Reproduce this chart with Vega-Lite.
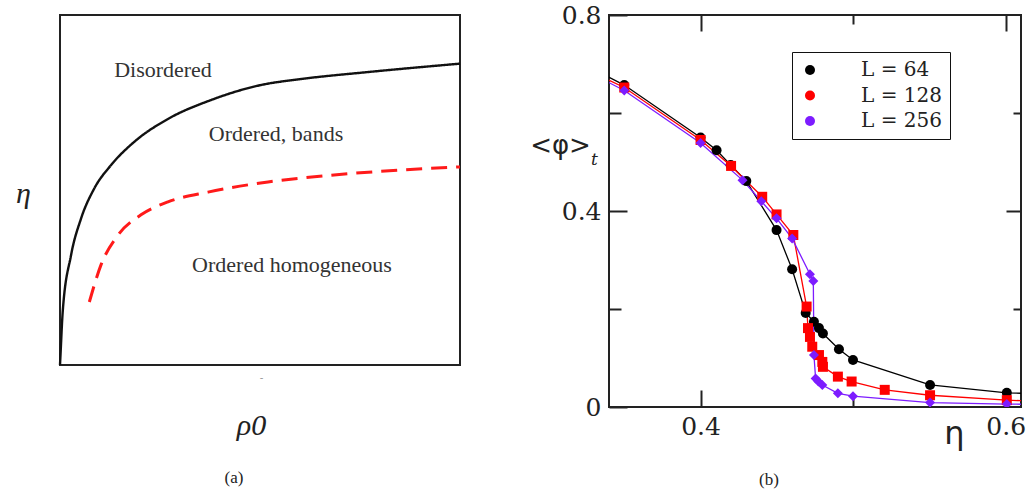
{
  "$schema": "https://vega.github.io/schema/vega-lite/v6.json",
  "background": "white",
  "padding": {"left": 14, "top": 2, "right": 0, "bottom": 0},
  "config": {
    "view": {"stroke": "#222", "strokeWidth": 2},
    "axis": {"grid": false, "domain": false}
  },
  "datasets": {
    "phase": [
      {"rho": 0.0, "eta": 0.0, "curve": "solid"},
      {"rho": 0.001, "eta": 0.023, "curve": "solid"},
      {"rho": 0.0067, "eta": 0.151, "curve": "solid"},
      {"rho": 0.0275, "eta": 0.313, "curve": "solid"},
      {"rho": 0.0525, "eta": 0.418, "curve": "solid"},
      {"rho": 0.085, "eta": 0.503, "curve": "solid"},
      {"rho": 0.1275, "eta": 0.571, "curve": "solid"},
      {"rho": 0.185, "eta": 0.637, "curve": "solid"},
      {"rho": 0.27, "eta": 0.703, "curve": "solid"},
      {"rho": 0.3775, "eta": 0.757, "curve": "solid"},
      {"rho": 0.5025, "eta": 0.8, "curve": "solid"},
      {"rho": 0.6025, "eta": 0.817, "curve": "solid"},
      {"rho": 0.77, "eta": 0.837, "curve": "solid"},
      {"rho": 1.0, "eta": 0.861, "curve": "solid"},
      {"rho": 0.0733, "eta": 0.18, "curve": "dashed"},
      {"rho": 0.1025, "eta": 0.286, "curve": "dashed"},
      {"rho": 0.145, "eta": 0.371, "curve": "dashed"},
      {"rho": 0.2025, "eta": 0.429, "curve": "dashed"},
      {"rho": 0.27, "eta": 0.466, "curve": "dashed"},
      {"rho": 0.37, "eta": 0.494, "curve": "dashed"},
      {"rho": 0.52, "eta": 0.523, "curve": "dashed"},
      {"rho": 0.685, "eta": 0.543, "curve": "dashed"},
      {"rho": 1.0, "eta": 0.566, "curve": "dashed"}
    ],
    "regions": [
      {"rho": 0.2575, "eta": 0.843, "label": "Disordered"},
      {"rho": 0.54, "eta": 0.66, "label": "Ordered, bands"},
      {"rho": 0.58, "eta": 0.286, "label": "Ordered homogeneous"}
    ],
    "order": [
      {"eta": 0.32, "phi": 0.705, "L": "L = 64"},
      {"eta": 0.35, "phi": 0.657, "L": "L = 64"},
      {"eta": 0.4, "phi": 0.55, "L": "L = 64"},
      {"eta": 0.4105, "phi": 0.524, "L": "L = 64"},
      {"eta": 0.4197, "phi": 0.494, "L": "L = 64"},
      {"eta": 0.43, "phi": 0.461, "L": "L = 64"},
      {"eta": 0.4498, "phi": 0.361, "L": "L = 64"},
      {"eta": 0.46, "phi": 0.281, "L": "L = 64"},
      {"eta": 0.4689, "phi": 0.192, "L": "L = 64"},
      {"eta": 0.4743, "phi": 0.174, "L": "L = 64"},
      {"eta": 0.4776, "phi": 0.161, "L": "L = 64"},
      {"eta": 0.4802, "phi": 0.15, "L": "L = 64"},
      {"eta": 0.4907, "phi": 0.118, "L": "L = 64"},
      {"eta": 0.4999, "phi": 0.096, "L": "L = 64"},
      {"eta": 0.5504, "phi": 0.045, "L": "L = 64"},
      {"eta": 0.6007, "phi": 0.029, "L": "L = 64"},
      {"eta": 0.65, "phi": 0.024, "L": "L = 64"},
      {"eta": 0.32, "phi": 0.697, "L": "L = 128"},
      {"eta": 0.35, "phi": 0.652, "L": "L = 128"},
      {"eta": 0.4, "phi": 0.545, "L": "L = 128"},
      {"eta": 0.42, "phi": 0.492, "L": "L = 128"},
      {"eta": 0.4404, "phi": 0.429, "L": "L = 128"},
      {"eta": 0.4498, "phi": 0.393, "L": "L = 128"},
      {"eta": 0.4608, "phi": 0.351, "L": "L = 128"},
      {"eta": 0.4695, "phi": 0.205, "L": "L = 128"},
      {"eta": 0.4704, "phi": 0.161, "L": "L = 128"},
      {"eta": 0.4717, "phi": 0.143, "L": "L = 128"},
      {"eta": 0.4732, "phi": 0.123, "L": "L = 128"},
      {"eta": 0.4776, "phi": 0.106, "L": "L = 128"},
      {"eta": 0.4798, "phi": 0.092, "L": "L = 128"},
      {"eta": 0.4802, "phi": 0.082, "L": "L = 128"},
      {"eta": 0.49, "phi": 0.062, "L": "L = 128"},
      {"eta": 0.499, "phi": 0.052, "L": "L = 128"},
      {"eta": 0.5207, "phi": 0.035, "L": "L = 128"},
      {"eta": 0.5504, "phi": 0.024, "L": "L = 128"},
      {"eta": 0.6007, "phi": 0.014, "L": "L = 128"},
      {"eta": 0.65, "phi": 0.008, "L": "L = 128"},
      {"eta": 0.32, "phi": 0.694, "L": "L = 256"},
      {"eta": 0.35, "phi": 0.646, "L": "L = 256"},
      {"eta": 0.4, "phi": 0.539, "L": "L = 256"},
      {"eta": 0.4275, "phi": 0.463, "L": "L = 256"},
      {"eta": 0.4398, "phi": 0.42, "L": "L = 256"},
      {"eta": 0.4498, "phi": 0.385, "L": "L = 256"},
      {"eta": 0.46, "phi": 0.344, "L": "L = 256"},
      {"eta": 0.4717, "phi": 0.271, "L": "L = 256"},
      {"eta": 0.4739, "phi": 0.257, "L": "L = 256"},
      {"eta": 0.4743, "phi": 0.106, "L": "L = 256"},
      {"eta": 0.4754, "phi": 0.058, "L": "L = 256"},
      {"eta": 0.4772, "phi": 0.052, "L": "L = 256"},
      {"eta": 0.4798, "phi": 0.045, "L": "L = 256"},
      {"eta": 0.49, "phi": 0.028, "L": "L = 256"},
      {"eta": 0.4999, "phi": 0.022, "L": "L = 256"},
      {"eta": 0.5504, "phi": 0.009, "L": "L = 256"},
      {"eta": 0.6007, "phi": 0.006, "L": "L = 256"},
      {"eta": 0.65, "phi": 0.004, "L": "L = 256"}
    ],
    "sub": [
      {"eta": 0.3305, "phi": 0.504, "s": "t"}
    ]
  },
  "spacing": 149,
  "bounds": "flush",
  "resolve": {"scale": {"color": "independent", "stroke": "independent", "strokeDash": "independent", "strokeWidth": "independent", "shape": "independent"}},
  "hconcat": [
    {
      "width": 400,
      "height": 350,
      "title": {"text": "(a)", "orient": "bottom", "font": "Liberation Serif", "fontSize": 17, "fontWeight": "normal", "color": "#222", "anchor": "middle", "dx": -26, "offset": 30},
      "layer": [
        {
          "data": {"name": "phase"},
          "mark": {"type": "line", "interpolate": "monotone"},
          "encoding": {
            "x": {"field": "rho", "type": "quantitative", "scale": {"domain": [0, 1], "nice": false},
              "axis": {"title": "ρ0", "titleFont": "Liberation Serif", "titleFontStyle": "italic", "titleFontSize": 30, "titleFontWeight": "normal", "titleColor": "#222", "titleX": 191, "titleY": 69, "titleBaseline": "alphabetic", "titleAlign": "center",
                "values": [0.5025], "labelExpr": "'-'", "ticks": false, "labelPadding": 6, "labelFontSize": 11, "labelColor": "#999"}},
            "y": {"field": "eta", "type": "quantitative", "scale": {"domain": [0, 1], "nice": false},
              "axis": {"title": "η", "titleFont": "Liberation Serif", "titleFontStyle": "italic", "titleFontSize": 30, "titleFontWeight": "normal", "titleColor": "#222", "titleAngle": 0, "titleX": -37, "titleY": 187, "titleBaseline": "alphabetic", "titleAlign": "center", "labels": false, "ticks": false}},
            "color": {"field": "curve", "type": "nominal", "scale": {"domain": ["solid", "dashed"], "range": ["#111111", "#ff1a1a"]}, "legend": null},
            "strokeDash": {"field": "curve", "type": "nominal", "scale": {"domain": ["solid", "dashed"], "range": [[1, 0], [16, 9]]}, "legend": null},
            "strokeWidth": {"field": "curve", "type": "nominal", "scale": {"domain": ["solid", "dashed"], "range": [2.4, 3]}, "legend": null}
          }
        },
        {
          "data": {"name": "regions"},
          "mark": {"type": "text", "font": "Liberation Serif", "fontSize": 22, "color": "#333", "align": "center", "baseline": "middle"},
          "encoding": {
            "x": {"field": "rho", "type": "quantitative"},
            "y": {"field": "eta", "type": "quantitative"},
            "text": {"field": "label"}
          }
        }
      ]
    },
    {
      "width": 412,
      "height": 392,
      "title": {"text": "(b)", "orient": "bottom", "font": "Liberation Serif", "fontSize": 17, "fontWeight": "normal", "color": "#222", "anchor": "middle", "dx": -46, "offset": 23},
      "layer": [
        {
          "layer": [
            {
              "data": {"name": "order"},
              "mark": {"type": "line", "strokeWidth": 1.3, "clip": true},
              "encoding": {
                "x": {"field": "eta", "type": "quantitative", "scale": {"domain": [0.34, 0.61], "nice": false, "zero": false},
                  "axis": {"orient": "bottom", "values": [0.4, 0.5, 0.6], "format": ".1f", "labelExpr": "datum.value > 0.45 && datum.value < 0.55 ? '' : datum.label",
                    "labelFont": "DejaVu Serif", "labelFontSize": 25, "labelColor": "#222", "labelPadding": 24,
                    "tickSize": {"condition": {"test": "datum.value > 0.45 && datum.value < 0.55", "value": -10}, "value": -17},
                    "tickWidth": 2, "tickColor": "#222",
                    "title": "η", "titleFont": "DejaVu Sans", "titleFontSize": 32, "titleFontWeight": "normal", "titleColor": "#222", "titleX": 345, "titleY": 26, "titleBaseline": "middle", "titleAlign": "center"}},
                "y": {"field": "phi", "type": "quantitative", "scale": {"domain": [0, 0.8], "nice": false, "zero": false},
                  "axis": {"orient": "left", "values": [0, 0.2, 0.4, 0.6, 0.8],
                    "labelExpr": "(datum.value > 0.1 && datum.value < 0.3) || (datum.value > 0.5 && datum.value < 0.7) ? '' : (datum.value == 0 ? '0' : format(datum.value, '.1f'))",
                    "labelFont": "DejaVu Serif", "labelFontSize": 25, "labelColor": "#222", "labelPadding": 26,
                    "tickSize": {"condition": {"test": "(datum.value > 0.1 && datum.value < 0.3) || (datum.value > 0.5 && datum.value < 0.7)", "value": -12}, "value": -18},
                    "tickWidth": 2, "tickColor": "#222",
                    "title": "<φ>", "titleFont": "DejaVu Sans", "titleFontSize": 26, "titleFontWeight": "normal", "titleColor": "#222", "titleAngle": 0, "titleX": -49, "titleY": 130, "titleBaseline": "middle", "titleAlign": "center"}},
                "stroke": {"field": "L", "type": "nominal", "scale": {"domain": ["L = 64", "L = 128", "L = 256", "none"], "range": ["#000000", "#ff0000", "#7d1cff", "#000000"]}, "legend": null}
              }
            },
            {
              "data": {"name": "order"},
              "mark": {"type": "point", "filled": true, "opacity": 1, "size": 100, "clip": true},
              "encoding": {
                "x": {"field": "eta", "type": "quantitative"},
                "y": {"field": "phi", "type": "quantitative"},
                "color": {"field": "L", "type": "nominal", "scale": {"domain": ["L = 64", "L = 128", "L = 256"], "range": ["#000000", "#ff0000", "#7d1cff"]},
                  "legend": {"orient": "none", "legendX": 183, "legendY": 37, "title": null, "padding": 8, "rowPadding": 5.5, "strokeColor": "#111", "labelFont": "DejaVu Serif", "labelFontSize": 20, "labelColor": "#222", "labelOffset": 41, "symbolSize": 100, "symbolStrokeWidth": 0,
                    "encode": {
                      "symbols": {"shape": {"value": {"expr": "datum.value == 'L = 64' ? 'M1.7,0 A1.2,1.2 0 1,1 -0.7,0 A1.2,1.2 0 1,1 1.7,0 Z M8.7,0 A1.2,1.2 0 1,1 6.3,0 A1.2,1.2 0 1,1 8.7,0 Z M0.5,-0.14 L7.5,-0.14 L7.5,0.14 L0.5,0.14 Z' : (datum.value == 'L = 128' ? 'M-0.5,-1 L1.5,-1 L1.5,1 L-0.5,1 Z M6.5,-1 L8.5,-1 L8.5,1 L6.5,1 Z M0.5,-0.12 L7.5,-0.12 L7.5,0.12 L0.5,0.12 Z' : 'M-1,0 L0.5,-1.2 L2,0 L0.5,1.2 Z M6,0 L7.5,-1.2 L9,0 L7.5,1.2 Z M0.5,-0.15 L7.5,-0.15 L7.5,0.15 L0.5,0.15 Z')"}}}
                    }}},
                "shape": {"field": "L", "type": "nominal", "scale": {"domain": ["L = 64", "L = 128", "L = 256", "other"], "range": ["circle", "square", "diamond", "circle"]}, "legend": null}
              }
            },
            {
              "data": {"name": "sub"},
              "mark": {"type": "text", "font": "DejaVu Serif", "fontStyle": "italic", "fontSize": 17, "color": "#222", "align": "center", "baseline": "middle"},
              "encoding": {
                "x": {"field": "eta", "type": "quantitative"},
                "y": {"field": "phi", "type": "quantitative"},
                "text": {"field": "s"}
              }
            }
          ]
        },
        {
          "data": {"name": "order"},
          "mark": {"type": "point", "opacity": 0},
          "encoding": {
            "x": {"field": "eta", "type": "quantitative", "scale": {"domain": [0.34, 0.61], "nice": false, "zero": false},
              "axis": {"orient": "top", "values": [0.4, 0.5, 0.6], "labels": false, "title": null,
                "tickSize": {"condition": {"test": "datum.value > 0.45 && datum.value < 0.55", "value": -9}, "value": -16},
                "tickWidth": 2, "tickColor": "#222"}},
            "y": {"field": "phi", "type": "quantitative", "scale": {"domain": [0, 0.8], "nice": false, "zero": false},
              "axis": {"orient": "right", "values": [0.2, 0.4, 0.6], "labels": false, "title": null,
                "tickSize": {"condition": {"test": "datum.value > 0.3 && datum.value < 0.5", "value": -15}, "value": -8},
                "tickWidth": 2, "tickColor": "#222"}}
          }
        }
      ],
      "resolve": {"scale": {"x": "independent", "y": "independent"}}
    }
  ]
}
